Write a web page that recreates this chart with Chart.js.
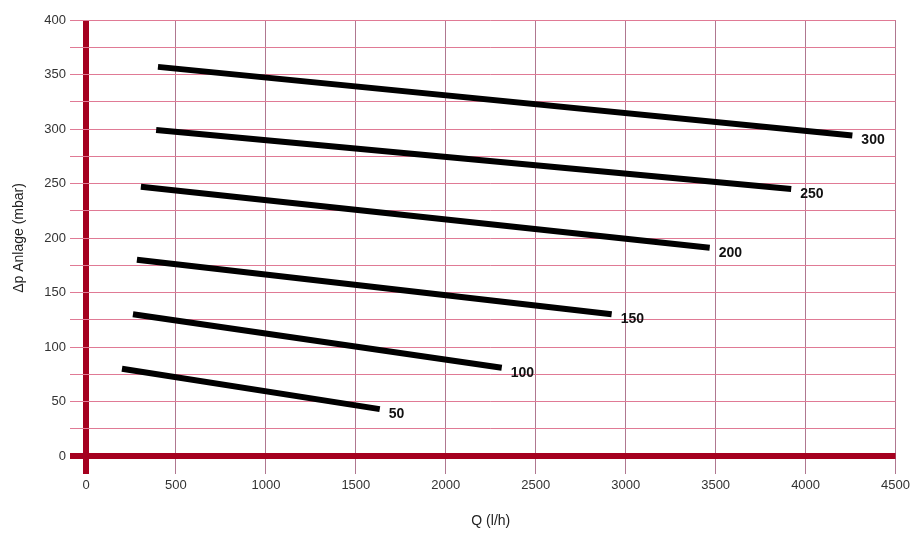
<!DOCTYPE html>
<html>
<head>
<meta charset="utf-8">
<script src="https://cdn.jsdelivr.net/npm/chart.js@4"></script>
<style>
  html, body { margin: 0; padding: 0; background: #fff; }
  #wrap { width: 914px; height: 533px; }
</style>
</head>
<body>
<div id="wrap"><canvas id="chart"></canvas></div>
<script>
// curve labels (pump head, mbar) and their end points
const seriesLabels = ['300', '250', '200', '150', '100', '50'];
const qStart = [400, 390, 305, 283, 261, 200];
const dpStart = [357, 299, 247, 180, 130, 80];
const qEnd = [4260, 3920, 3467, 2922, 2311, 1633];
const dpEnd = [294, 245, 191, 130, 81, 43];

const xTicks = [0, 500, 1000, 1500, 2000, 2500, 3000, 3500, 4000, 4500];
const yTicks = [0, 50, 100, 150, 200, 250, 300, 350, 400];

const AXIS_RED = '#a5001f';
const GRID_H = '#e07a95';
const GRID_V = '#b07890';
const FONT = '"Liberation Sans", Arial, sans-serif';

// writes the head value just right of each line end
const endLabels = {
    id: 'endLabels',
    afterDatasetsDraw(chart) {
        const ctx = chart.ctx;
        ctx.save();
        ctx.font = 'bold 14px ' + FONT;
        ctx.fillStyle = '#111';
        ctx.textBaseline = 'middle';
        chart.data.datasets.forEach((ds, i) => {
            const pts = chart.getDatasetMeta(i).data;
            const last = pts[pts.length - 1];
            ctx.fillText(ds.label, last.x + 9, last.y + 5);
        });
        ctx.restore();
    }
};

const datasets = seriesLabels.map((lab, i) => ({
    label: lab,
    data: [{ x: qStart[i], y: dpStart[i] }, { x: qEnd[i], y: dpEnd[i] }],
    borderColor: '#000',
    borderWidth: 6,
    borderCapStyle: 'butt',
    pointRadius: 0,
    fill: false,
    tension: 0
}));

new Chart(document.getElementById('chart'), {
    type: 'line',
    data: { datasets: datasets },
    options: {
        responsive: true,
        maintainAspectRatio: false,
        animation: false,
        layout: { padding: { top: 20, right: 18, left: 0, bottom: 0 } },
        plugins: { legend: { display: false }, tooltip: { enabled: false } },
        scales: {
            x: {
                type: 'linear',
                min: 0,
                max: 4500,
                afterFit: s => { s.height = 77; },
                afterBuildTicks: s => { s.ticks = xTicks.map(v => ({ value: v })); },
                border: { display: false },
                grid: {
                    color: c => c.tick && c.tick.value === 0 ? AXIS_RED : GRID_V,
                    lineWidth: c => c.tick && c.tick.value === 0 ? 6 : 1,
                    tickLength: 18
                },
                ticks: {
                    padding: 4,
                    autoSkip: false,
                    color: '#333',
                    font: { family: FONT, size: 13 },
                    callback: v => String(v)
                },
                title: {
                    display: true,
                    text: 'Q (l/h)',
                    color: '#222',
                    padding: { top: 0, bottom: 3 },
                    font: { family: FONT, size: 14 }
                }
            },
            y: {
                min: 0,
                max: 400,
                afterFit: s => { s.width = 86; },
                ticks: {
                    stepSize: 25,
                    autoSkip: false,
                    padding: 4,
                    color: '#333',
                    font: { family: FONT, size: 13 },
                    callback: v => yTicks.includes(v) ? String(v) : ''
                },
                border: { display: false },
                grid: {
                    color: c => c.tick && c.tick.value === 0 ? AXIS_RED : GRID_H,
                    lineWidth: c => c.tick && c.tick.value === 0 ? 6 : 1,
                    tickLength: 16
                },
                title: {
                    display: true,
                    text: 'Δp Anlage (mbar)',
                    color: '#222',
                    padding: { top: 11, bottom: 0 },
                    font: { family: FONT, size: 14 }
                }
            }
        }
    },
    plugins: [endLabels]
});
</script>
</body>
</html>
